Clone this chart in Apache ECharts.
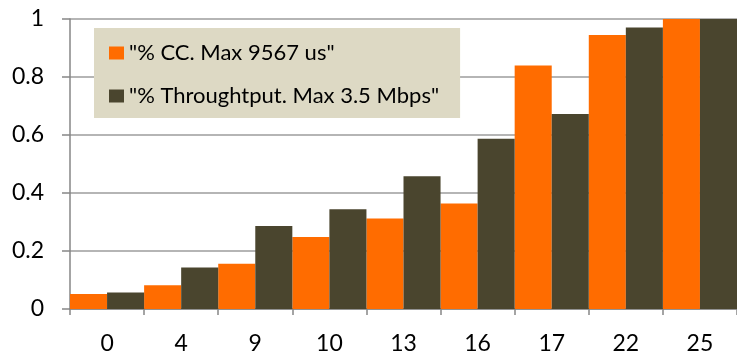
<!DOCTYPE html>
<html>
<head>
<meta charset="utf-8">
<script src="https://cdn.jsdelivr.net/npm/echarts@6/dist/echarts.min.js"></script>
<style>
html,body{margin:0;padding:0;background:#fff;}
#c{width:737px;height:355px;}
</style>
</head>
<body>
<div id="c"></div>
<script>
const categories = ["0", "4", "9", "10", "13", "16", "17", "22", "25"];
const ccValues = [0.052, 0.082, 0.156, 0.248, 0.312, 0.364, 0.84, 0.945, 1.0];
const throughputValues = [0.057, 0.143, 0.286, 0.344, 0.458, 0.587, 0.672, 0.971, 1.0];
const seriesNames = ['"% CC. Max 9567 us"', '"% Throughtput. Max 3.5 Mbps"'];
const yTicks = [0, 0.2, 0.4, 0.6, 0.8, 1];

const FONT = 'Lato';
const chart = echarts.init(document.getElementById('c'), null, {renderer: 'canvas'});
chart.setOption({
  animation: false,
  backgroundColor: '#ffffff',
  grid: {left: 70, right: -11, top: 19, bottom: 45, containLabel: false},
  legend: {
    orient: 'vertical',
    left: 94,
    top: 28,
    backgroundColor: '#DDD9C4',
    padding: [14, 21, 11, 15],
    itemWidth: 15,
    itemHeight: 13,
    itemGap: 21,
    icon: 'rect',
    textStyle: {fontFamily: FONT, fontSize: 22, color: '#000'},
    data: seriesNames
  },
  xAxis: {
    type: 'category',
    data: categories,
    axisLine: {lineStyle: {color: '#868686', width: 1.5}},
    axisTick: {show: true, length: 6, lineStyle: {color: '#868686', width: 1.5}},
    axisLabel: {fontFamily: FONT, fontSize: 23, color: '#000', margin: 23},
    splitLine: {show: false}
  },
  yAxis: {
    type: 'value',
    min: 0,
    max: 1,
    interval: 0.2,
    axisLine: {show: true, lineStyle: {color: '#868686', width: 1.5}},
    axisTick: {show: true, length: 8, lineStyle: {color: '#868686', width: 1.5}},
    axisLabel: {
      fontFamily: FONT, fontSize: 23, color: '#000', margin: 26,
      formatter: function (v) {
        const t = yTicks.find(x => Math.abs(x - v) < 1e-9);
        return t === undefined ? '' : String(t);
      }
    },
    splitLine: {show: true, lineStyle: {color: '#9c9c9c', width: 1.5}}
  },
  series: [
    {
      name: seriesNames[0],
      type: 'bar',
      data: ccValues,
      barGap: '0%',
      barCategoryGap: '0%',
      itemStyle: {color: '#FF6C00'}
    },
    {
      name: seriesNames[1],
      type: 'bar',
      data: throughputValues,
      barGap: '0%',
      barCategoryGap: '0%',
      itemStyle: {color: '#4A452E'}
    }
  ]
});
</script>
</body>
</html>
